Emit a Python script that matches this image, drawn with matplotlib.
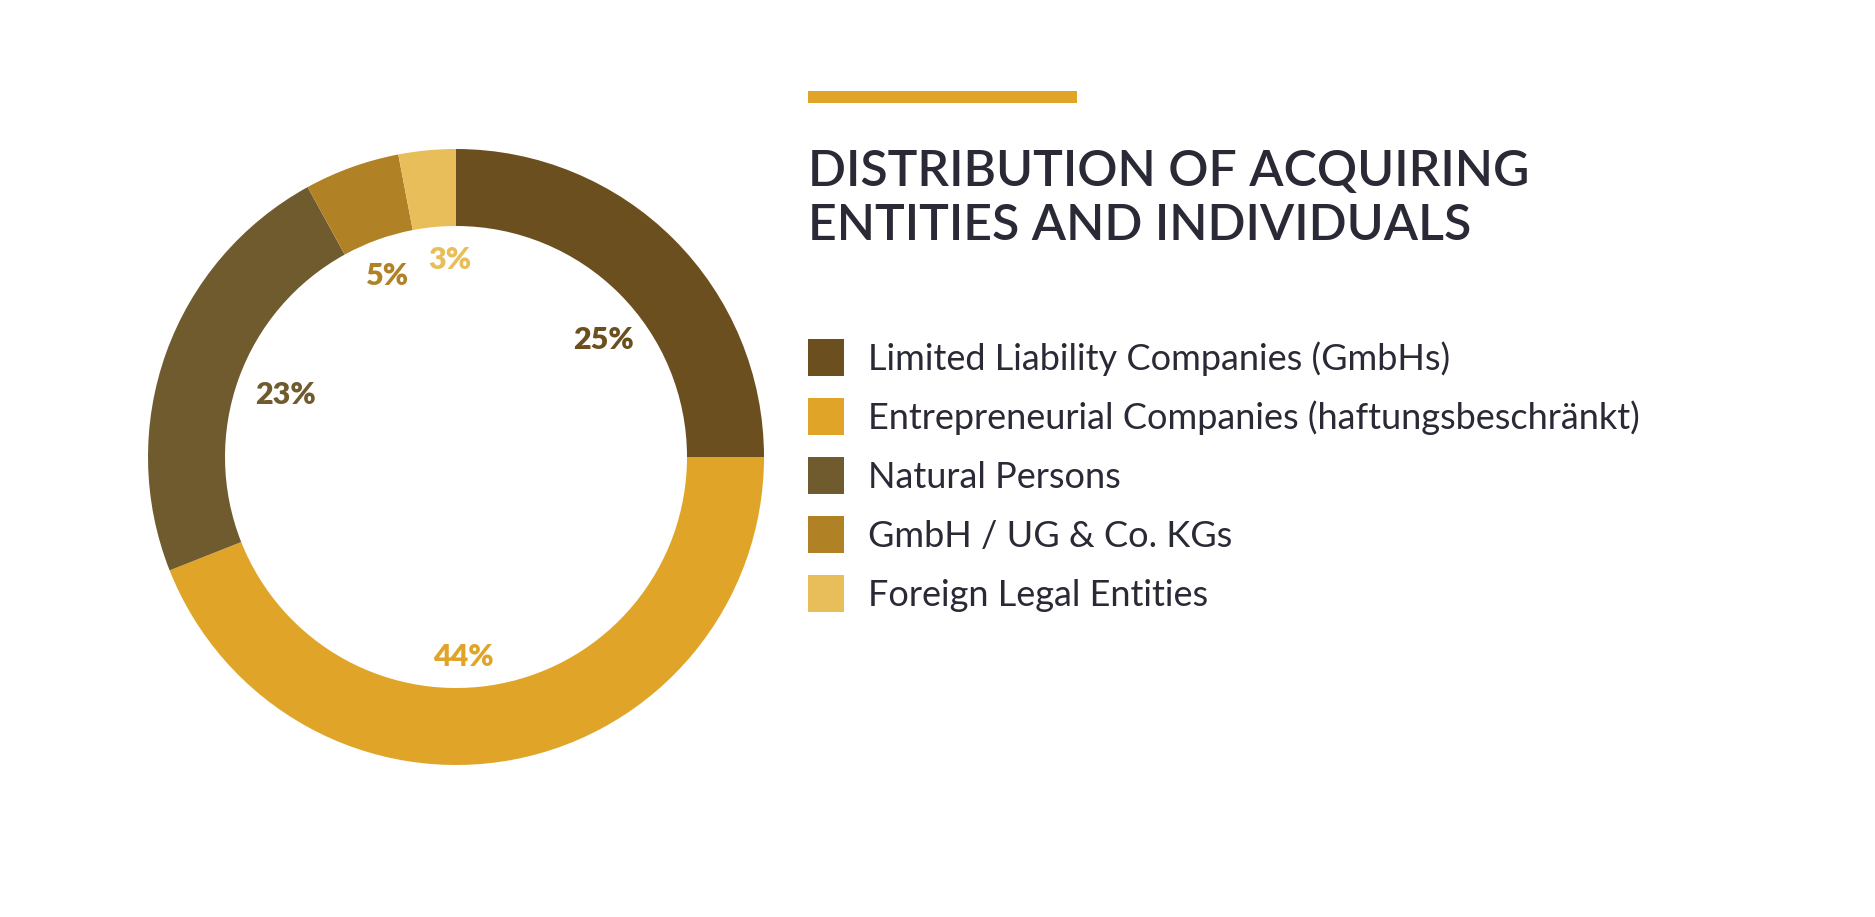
import numpy as np
import matplotlib
matplotlib.use("Agg")
import matplotlib.pyplot as plt
from matplotlib.patches import Rectangle

categories = ["Limited Liability Companies (GmbHs)",
              "Entrepreneurial Companies (haftungsbeschränkt)",
              "Natural Persons",
              "GmbH / UG & Co. KGs",
              "Foreign Legal Entities"]
values = [25, 44, 23, 5, 3]
pct_labels = ["25%", "44%", "23%", "5%", "3%"]
colors = ["#6C4F1F", "#E0A528", "#705B2F", "#B18225", "#E8BE5A"]
title_lines = ["DISTRIBUTION OF ACQUIRING", "ENTITIES AND INDIVIDUALS"]

# label placement styling (radius fraction, angular nudge in degrees)
label_radius = [0.61, 0.65, 0.59, 0.63, 0.64]
label_nudge = [6.6, 8.8, 0.0, -1.0, 3.6]

W, H = 1875, 917
fig = plt.figure(figsize=(W / 100, H / 100), dpi=100)
fig.patch.set_facecolor("white")

def fx(px):
    return px / W

def fy(py):
    return 1 - py / H

# donut
cx, cy, R = 456, 457, 308
ax = fig.add_axes([fx(cx - R), fy(cy + R), 2 * R / W, 2 * R / H])
ax.pie(values, colors=colors, startangle=90, counterclock=False,
       radius=1.0, wedgeprops=dict(width=0.25, edgecolor="none"))
ax.set_xlim(-1, 1)
ax.set_ylim(-1, 1)
ax.set_aspect("equal")
ax.axis("off")

# percentage labels
cum = np.cumsum([0] + values[:-1])
total = sum(values)
for v, c0, lab, col, lr, nd in zip(values, cum, pct_labels, colors, label_radius, label_nudge):
    mid = (c0 + v / 2) / total * 360 + nd
    ang = np.deg2rad(90 - mid)
    ax.text(lr * np.cos(ang), lr * np.sin(ang), lab,
            ha="center", va="center", color=col, fontsize=22,
            fontweight="heavy", family=["Lato", "DejaVu Sans"])

# accent bar
fig.patches.append(Rectangle((fx(808), fy(103)), fx(1077) - fx(808), fy(91) - fy(103),
                             transform=fig.transFigure, color="#E0A528", lw=0))

# title
title_col = "#2A2A36"
for i, line in enumerate(title_lines):
    fig.text(fx(808), fy(186 + 54 * i), line, ha="left", va="baseline",
             fontsize=36, fontweight="semibold", color=title_col,
             family=["Lato", "DejaVu Sans"])

# legend
for i, (cat, col) in enumerate(zip(categories, colors)):
    top = 339 + 59 * i
    fig.patches.append(Rectangle((fx(808), fy(top + 37)), fx(844) - fx(808), fy(top) - fy(top + 37),
                                 transform=fig.transFigure, color=col, lw=0))
    fig.text(fx(868), fy(top + 31), cat, ha="left", va="baseline",
             fontsize=26, fontweight="normal", color=title_col,
             family=["Lato", "DejaVu Sans"])

fig.savefig("out.png", dpi=100, facecolor="white")
